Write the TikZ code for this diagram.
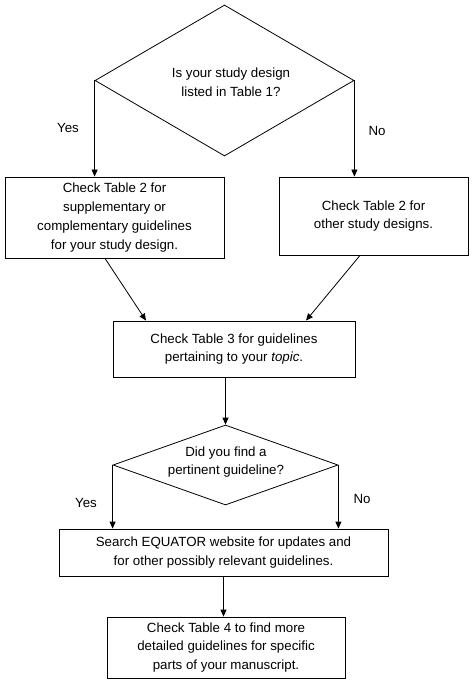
\documentclass[tikz,border=0pt]{standalone}
\usepackage{fontspec}
\setmainfont{Liberation Sans}
\usetikzlibrary{shapes.geometric,arrows.meta}
\tikzset{
  box/.style={draw, line width=0.8pt, rectangle, inner sep=0pt, align=center, font=\fontsize{13.3}{18.8}\selectfont},
  dia/.style={draw, line width=0.8pt, diamond, inner sep=0pt},
  txt/.style={align=center, inner sep=0pt, font=\fontsize{13.3}{18.8}\selectfont},
  arr/.style={line width=0.8pt, -{Triangle[length=7pt,width=6pt]}},
}
\begin{document}
\begin{tikzpicture}[x=1pt,y=-1pt]
\useasboundingbox (0,0) rectangle (474,684);
% first decision
\node[dia, minimum width=259pt, minimum height=151pt] (d1) at (224.5,80.5) {};
\node[txt] (d1t) at (231,82) {Is your study design\\listed in Table 1?};
\node[txt] (y1) at (68,128) {Yes};
\node[txt] (n1) at (377,131) {No};
% boxes
\node[box, minimum width=219pt, minimum height=81pt] (b1) at (114.5,217.5)
  {Check Table 2 for\\supplementary or\\complementary guidelines\\for your study design.};
\node[box, minimum width=189pt, minimum height=78pt] (b2) at (373.5,216)
  {Check Table 2 for\\other study designs.};
\node[box, minimum width=242pt, minimum height=56pt] (b3) at (234,349)
  {Check Table 3 for guidelines\\pertaining to your \textit{topic}.};
% second decision
\node[dia, minimum width=225pt, minimum height=80pt] (d2) at (225.5,465) {};
\node[txt] (d2t) at (226,462) {Did you find a\\pertinent guideline?};
\node[txt] (y2) at (86,503) {Yes};
\node[txt] (n2) at (362,499) {No};
\node[box, minimum width=329pt, minimum height=47pt] (b4) at (223.5,552.5)
  {Search EQUATOR website for updates and\\for other possibly relevant guidelines.};
\node[box, minimum width=238pt, minimum height=61pt] (b5) at (226,647.5)
  {Check Table 4 to find more\\detailed guidelines for specific\\parts of your manuscript.};
% connectors
\draw[arr] (d1.west) -- (d1.west |- b1.north);
\draw[arr] (d1.east) -- (d1.east |- b2.north);
\draw[arr] ([xshift=-9.5pt]b1.south) -- ([xshift=-88pt]b3.north);
\draw[arr] ([xshift=-13.5pt]b2.south) -- ([xshift=72pt]b3.north);
\draw[arr] (b3.south -| d2.north) -- (d2.north);
\draw[arr] (d2.west) -- (d2.west |- b4.north);
\draw[arr] (d2.east) -- (d2.east |- b4.north);
\draw[arr] (b4.south) -- (b4.south |- b5.north);
\end{tikzpicture}
\end{document}
